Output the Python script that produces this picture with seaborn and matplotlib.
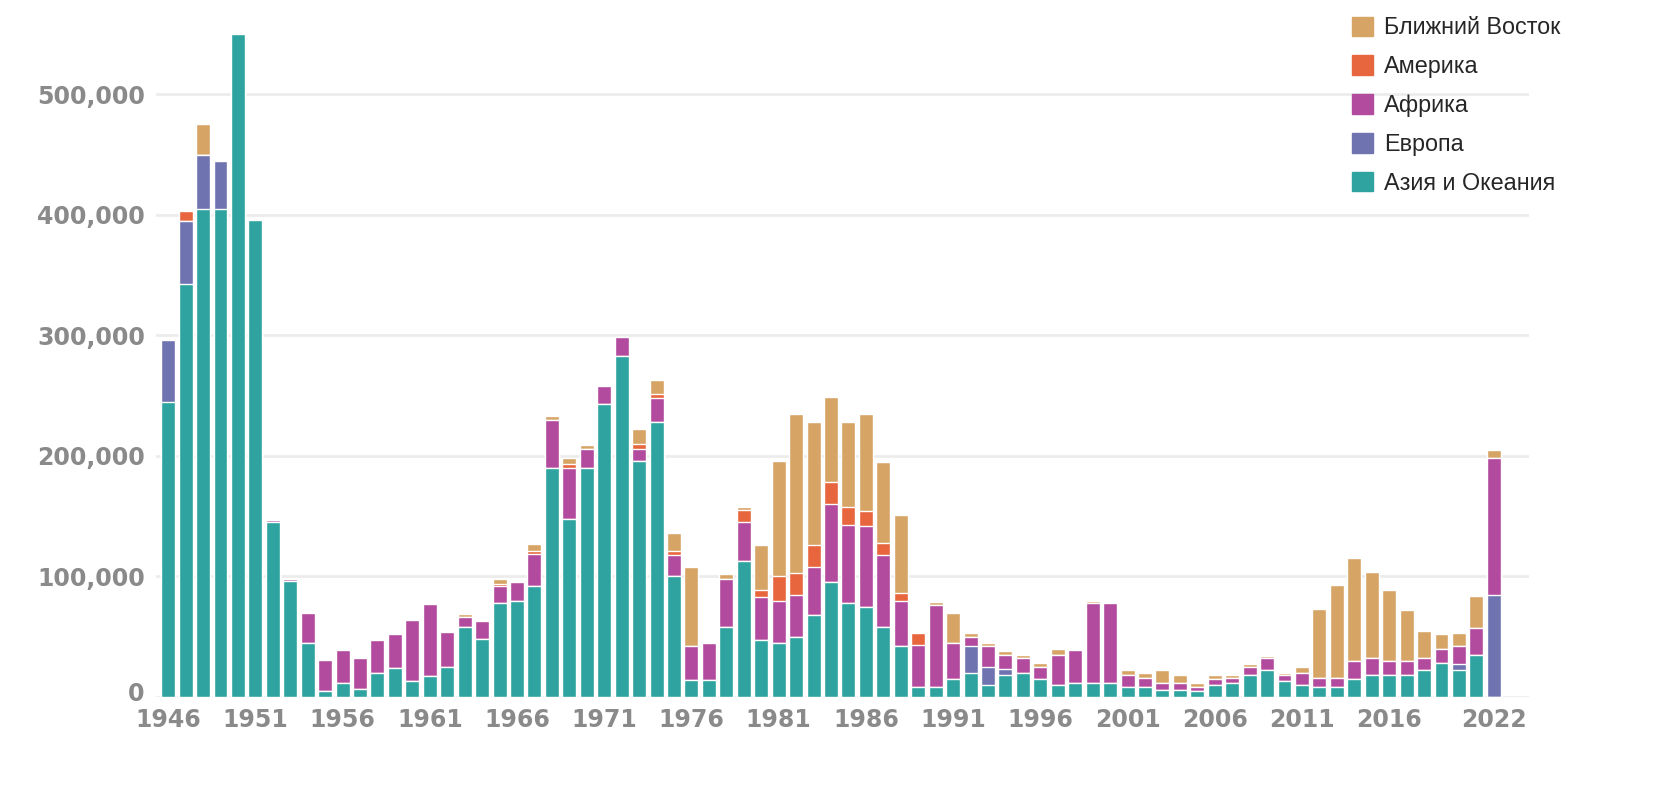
import matplotlib
matplotlib.use("Agg")
import matplotlib.pyplot as plt
import matplotlib.patches as mpatches
import matplotlib.transforms as mtransforms
import numpy as np
import pandas as pd
import seaborn as sns

# years 1946..2022, values in thousands
years = list(range(1946, 2023))

asia = [245, 343, 405, 405, 550, 396, 145, 96, 45, 5,
        12, 7, 20, 24, 13, 17, 25, 58, 48, 78,
        80, 92, 190, 148, 190, 243, 283, 196, 228, 100,
        14, 14, 58, 113, 47, 45, 50, 68, 95, 78,
        75, 58, 42, 8, 8, 15, 20, 10, 18, 20,
        15, 10, 12, 12, 12, 8, 8, 6, 6, 5,
        10, 12, 18, 22, 13, 10, 8, 8, 15, 18,
        18, 18, 22, 28, 22, 35, 0]
europe = [51, 52, 45, 40, 0, 0, 0, 0, 0, 0,
          0, 0, 0, 0, 0, 0, 0, 0, 0, 0,
          0, 0, 0, 0, 0, 0, 0, 0, 0, 0,
          0, 0, 0, 0, 0, 0, 0, 0, 0, 0,
          0, 0, 0, 0, 0, 0, 22, 15, 5, 0,
          0, 0, 0, 0, 0, 0, 0, 0, 0, 0,
          0, 0, 0, 0, 0, 0, 0, 0, 0, 0,
          0, 0, 0, 0, 5, 0, 85]
africa = [0, 0, 0, 0, 0, 0, 2, 2, 25, 26,
          27, 25, 27, 28, 51, 60, 29, 8, 15, 14,
          15, 27, 40, 42, 16, 15, 16, 10, 20, 18,
          28, 31, 40, 32, 36, 35, 35, 40, 65, 65,
          67, 60, 38, 35, 68, 30, 8, 17, 12, 12,
          10, 25, 27, 66, 66, 10, 8, 6, 6, 3,
          5, 4, 7, 10, 5, 10, 8, 8, 15, 14,
          12, 12, 10, 12, 15, 22, 113]
america = [0, 8, 0, 0, 0, 0, 0, 0, 0, 0,
           0, 0, 0, 0, 0, 0, 0, 0, 0, 2,
           0, 2, 0, 3, 0, 0, 0, 4, 3, 3,
           0, 0, 0, 10, 6, 20, 18, 18, 18, 15,
           12, 10, 6, 10, 0, 0, 0, 0, 0, 0,
           0, 0, 0, 0, 0, 0, 0, 0, 0, 0,
           0, 0, 0, 0, 0, 0, 0, 0, 0, 0,
           0, 0, 0, 0, 0, 0, 0]
middle_east = [0, 0, 25, 0, 0, 0, 0, 0, 0, 0,
               0, 0, 0, 0, 0, 0, 0, 3, 0, 4,
               0, 6, 3, 5, 3, 0, 0, 12, 12, 15,
               66, 0, 4, 3, 37, 96, 132, 102, 71, 70,
               81, 67, 65, 0, 3, 25, 3, 3, 3, 3,
               3, 5, 0, 2, 0, 4, 4, 10, 6, 4,
               3, 2, 2, 2, 2, 5, 57, 77, 85, 72,
               59, 42, 23, 12, 11, 27, 7]

regions = ['Азия и Океания', 'Европа', 'Африка', 'Америка', 'Ближний Восток']
colors = ['#2fa39f', '#6f74b0', '#b24a9e', '#e8663d', '#d6a465']
tick_years = [1946, 1951, 1956, 1961, 1966, 1971, 1976, 1981, 1986, 1991,
              1996, 2001, 2006, 2011, 2016, 2022]

df = pd.DataFrame({'year': [str(y) for y in years],
                   regions[0]: asia, regions[1]: europe, regions[2]: africa,
                   regions[3]: america, regions[4]: middle_east})
df[regions] = df[regions] * 1000
cum = df[regions].cumsum(axis=1)

sns.set_style('white')
plt.rcParams['font.family'] = ['DejaVu Sans']

fig = plt.figure(figsize=(16.66, 7.87), dpi=100)
ax = fig.add_axes([0.0936, 0.1144, 0.824, 0.873])

# draw tallest cumulative layer first, then smaller ones over it
for reg, col in reversed(list(zip(regions, colors))):
    sns.barplot(x=df['year'], y=cum[reg], color=col, width=0.8,
                saturation=1, ax=ax, zorder=2)

ax.set_xlim(-0.7, 78)
ax.set_ylim(0, 570000)
ax.set_yticks([0, 100000, 200000, 300000, 400000, 500000])
ax.set_yticklabels(['0', '100,000', '200,000', '300,000', '400,000', '500,000'])
ax.set_xticks([y - 1946 for y in tick_years])
ax.set_xticklabels([str(y) for y in tick_years])
ax.grid(axis='y', color='#ececec', linewidth=2, zorder=0)
ax.set_axisbelow(True)
ax.tick_params(axis='both', length=0, labelsize=17, labelcolor='#8a8a8a')
ax.tick_params(axis='x', pad=8)
ax.tick_params(axis='y', pad=8)
for lab in ax.get_yticklabels() + ax.get_xticklabels():
    lab.set_fontweight('bold')
# nudge the "0" label up a little so it clears the first year label
zero_lab = ax.get_yticklabels()[0]
zero_lab.set_transform(zero_lab.get_transform() +
                       mtransforms.ScaledTranslation(0, 5 / 100, fig.dpi_scale_trans))
ax.set_xlabel('')
ax.set_ylabel('')
sns.despine(ax=ax, left=True, bottom=True)

handles = [mpatches.Patch(color=c, label=r) for r, c in zip(regions, colors)][::-1]
fig.legend(handles=handles, loc='upper left', bbox_to_anchor=(0.799, 1.006),
           frameon=False, prop={'family': 'Liberation Sans', 'size': 16.8},
           handlelength=0.9, handleheight=0.9, handletextpad=0.45,
           labelspacing=0.68)

fig.savefig('out.png', dpi=100, facecolor='white')
